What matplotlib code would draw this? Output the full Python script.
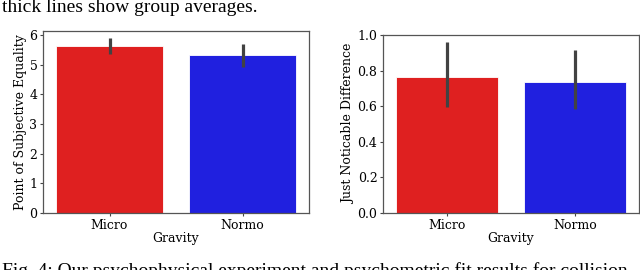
import matplotlib
matplotlib.use("Agg")
import matplotlib.pyplot as plt

categories = ["Micro", "Normo"]
colors = ["#DF2020", "#2020DF"]
pse_mean = [5.62, 5.33]
pse_lo = [5.34, 4.93]
pse_hi = [5.88, 5.69]
jnd_mean = [0.762, 0.736]
jnd_lo = [0.594, 0.583]
jnd_hi = [0.959, 0.916]
pse_ticks = [0, 1, 2, 3, 4, 5, 6]
jnd_ticks = [0.0, 0.2, 0.4, 0.6, 0.8, 1.0]

plt.rcParams["font.family"] = "DejaVu Serif"
FS = 9.0

fig = plt.figure(figsize=(6.4, 2.7), dpi=100)
ax1 = fig.add_axes([43/640, 57/270, 266/640, 182/270])
ax2 = fig.add_axes([383/640, 57/270, 256/640, 178/270])

def draw(ax, mean, lo, hi, ylabel, ticks, ylim, fmt):
    x = list(range(len(categories)))
    ax.bar(x, mean, width=0.8, color=colors, edgecolor="white", linewidth=0.6)
    ax.vlines(x, lo, hi, color="#424242", linewidth=2.3)
    ax.set_xlim(-0.5, len(categories) - 0.5)
    ax.set_ylim(*ylim)
    ax.set_xticks(x)
    ax.set_xticklabels(categories, fontsize=FS)
    ax.set_yticks(ticks)
    ax.set_yticklabels([fmt.format(t) for t in ticks], fontsize=FS)
    ax.set_xlabel("Gravity", fontsize=FS, labelpad=0)
    ax.set_ylabel(ylabel, fontsize=FS, labelpad=2)
    ax.tick_params(length=2.5, width=0.8, pad=1.5, color="#444444")
    for s in ax.spines.values():
        s.set_color("#555555")
        s.set_linewidth(0.9)

draw(ax1, pse_mean, pse_lo, pse_hi, "Point of Subjective Equality", pse_ticks, (0, 6.13), "{:d}")
draw(ax2, jnd_mean, jnd_lo, jnd_hi, "Just Noticable Difference", jnd_ticks, (0, 1.0), "{:.1f}")

fig.text(2/640, 1 - 12/270, "thick lines show group averages.", fontsize=14,
         family="Liberation Serif", va="baseline", ha="left")
fig.text(2/640, -6/270,
         "Fig. 4: Our psychophysical experiment and psychometric fit results for collision",
         fontsize=14, family="Liberation Serif", va="baseline", ha="left")

fig.savefig("out.png", dpi=100)
